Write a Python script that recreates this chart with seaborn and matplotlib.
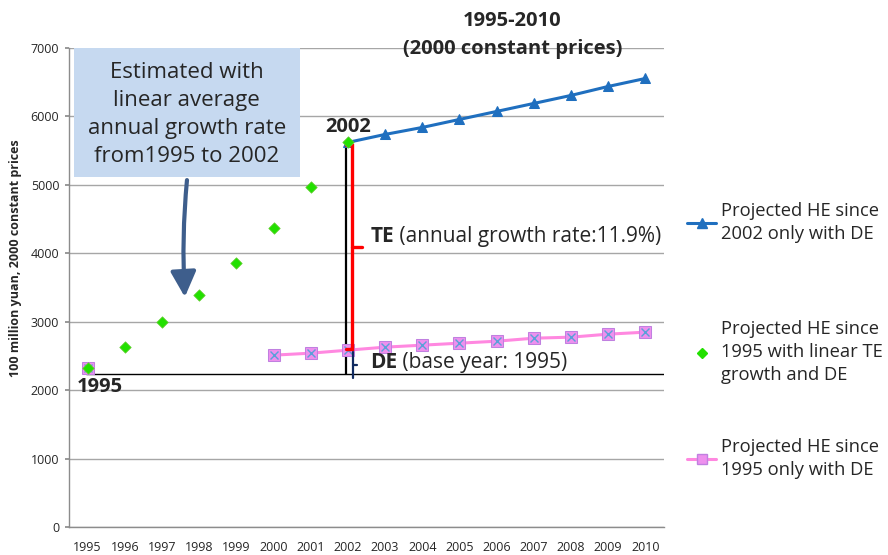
import numpy as np
import pandas as pd
import matplotlib
matplotlib.use("Agg")
import matplotlib.pyplot as plt
from matplotlib.lines import Line2D
from matplotlib.patches import FancyArrowPatch, Rectangle
import seaborn as sns

years = list(range(1995, 2011))

# Projected health expenditure (100 million yuan, 2000 constant prices)
he_since_2002_de = [np.nan] * 7 + [5620, 5737, 5839, 5956, 6073, 6190, 6307, 6438, 6555]
he_linear_te_de = [2321, 2628, 2993, 3387, 3854, 4365, 4964, 5620] + [np.nan] * 8
he_since_1995_de = [2321, np.nan, np.nan, np.nan, np.nan,
                    2511, 2540, 2584, 2628, 2657, 2686, 2715, 2759, 2774, 2818, 2847]
base_level = 2230

legend_labels = [
    "Projected HE since\n2002 only with DE",
    "Projected HE since\n1995 with linear TE\ngrowth and DE",
    "Projected HE since\n1995 only with DE",
]

sns.set_theme(style="white")
plt.rcParams["font.family"] = ["Open Sans", "DejaVu Sans"]

c_blue = "#1F6FBF"
c_green = "#22E000"
c_pink = "#FF88E0"
c_grid = "#A6A6A6"

df = pd.DataFrame({
    "x": np.arange(len(years)),
    "blue": he_since_2002_de,
    "green": he_linear_te_de,
    "pink": he_since_1995_de,
})


def segments(frame, col):
    """Split a series into runs of consecutive non-missing values."""
    valid = frame[col].notna()
    run_id = (~valid).cumsum()
    return [g for _, g in frame[valid].groupby(run_id[valid])]


fig = plt.figure(figsize=(8.88, 5.55), dpi=100)
ax = fig.add_axes([0.0777, 0.0505, 0.670, 0.863])

ax.set_ylim(0, 7000)
ax.set_xlim(-0.5, len(years) - 0.5)
ax.set_yticks(range(0, 7001, 1000))
ax.yaxis.grid(True, color=c_grid, linewidth=1.0)
ax.set_axisbelow(True)
for s in ["top", "right"]:
    ax.spines[s].set_visible(False)
for s in ["left", "bottom"]:
    ax.spines[s].set_color("#8C8C8C")
    ax.spines[s].set_linewidth(1.0)

# Baseline and 2002 marker line
ax.hlines(base_level, -0.05, len(years) - 0.5, color="black", linewidth=1.0, zorder=2)
ax.vlines(6.95, base_level, he_since_2002_de[7], color="black", linewidth=1.6, zorder=2)

# Series: lines are broken where values are missing
for seg in segments(df, "pink"):
    sns.lineplot(data=seg, x="x", y="pink", ax=ax, color=c_pink, linewidth=2.2,
                 marker="s", markersize=8, markerfacecolor="#EE90EE",
                 markeredgecolor="#C080E0", zorder=3)
ax.plot(df["x"], df["pink"], linestyle="none", marker="x", markersize=6,
        color="#5AA0D8", markeredgewidth=1.0, zorder=4)
for seg in segments(df, "blue"):
    sns.lineplot(data=seg, x="x", y="blue", ax=ax, color=c_blue, linewidth=2.2,
                 marker="^", markersize=7, markerfacecolor=c_blue,
                 markeredgecolor=c_blue, zorder=3)
sns.scatterplot(data=df, x="x", y="green", ax=ax, color=c_green, marker="D",
                s=34, edgecolor="#66CC33", linewidth=0.5, zorder=5)

ax.set_xticks(df["x"])
ax.set_xticklabels([str(y) for y in years], fontsize=9)
ax.tick_params(axis="x", length=0, pad=10)
ax.tick_params(axis="y", labelsize=9, length=3, color="#8C8C8C", left=True, pad=4)
ax.set_xlabel("")
ax.set_ylabel("")
fig.text(0.017, 0.535, "100 million yuan, 2000 constant prices", fontsize=9,
         fontweight="bold", rotation=90, ha="center", va="center")

# TE bracket (red) between DE-only and projected HE at 2002
te_top = he_since_2002_de[7] - 40
te_bot = he_since_1995_de[7] + 20
xr = 7.1
ax.plot([6.95, xr, xr, 6.95], [te_top, te_top, te_bot, te_bot], color="red",
        linewidth=2.4, zorder=4, solid_joinstyle="miter")
ax.plot([xr, xr + 0.27], [(te_top + te_bot) / 2] * 2, color="red", linewidth=2.4, zorder=4)

# DE brace (navy)
de_top = he_since_1995_de[7] - 20
de_bot = base_level - 60
ax.plot([xr + 0.05, xr + 0.05], [de_bot, de_top], color="#102A60", linewidth=1.6, zorder=4)
ax.plot([xr + 0.05, xr + 0.15], [(de_top + de_bot) / 2] * 2, color="#102A60",
        linewidth=1.6, zorder=4)

te = ax.text(7.6, 4250, "TE", fontsize=15, fontweight="bold", va="center", ha="left")
ax.annotate(" (annual growth rate:11.9%)", xy=(1, 0.5), xycoords=te, fontsize=15,
            va="center", ha="left")
de = ax.text(7.6, 2410, "DE", fontsize=15, fontweight="bold", va="center", ha="left")
ax.annotate(" (base year: 1995)", xy=(1, 0.5), xycoords=de, fontsize=15,
            va="center", ha="left")
ax.text(7.0, 5840, "2002", fontsize=14.5, fontweight="bold", va="center", ha="center")
ax.text(-0.3, 2040, "1995", fontsize=14.5, fontweight="bold", va="center", ha="left")

# Note box with arrow
ax.add_patch(Rectangle((-0.37, 5115), 6.07, 1885, facecolor="#C6D9F0",
                       edgecolor="none", zorder=6))
ax.text(2.67, 6030,
        "Estimated with\nlinear average\nannual growth rate\nfrom1995 to 2002",
        fontsize=16, ha="center", va="center", linespacing=1.45, zorder=7)
arrow = FancyArrowPatch((2.68, 5110), (2.62, 3320),
                        connectionstyle="arc3,rad=0.04",
                        arrowstyle="-|>,head_length=7,head_width=3.5",
                        color="#3E5E8C", linewidth=3, mutation_scale=2.2, zorder=5)
ax.add_patch(arrow)

# Title
fig.text(0.577, 0.962, "1995-2010", fontsize=14.5, fontweight="bold", ha="center", va="center")
fig.text(0.577, 0.912, "(2000 constant prices)", fontsize=14.5, fontweight="bold",
         ha="center", va="center")

# Legend: one block per series, placed down the right margin
handles = [
    Line2D([], [], color=c_blue, linewidth=2.2, marker="^", markersize=7),
    Line2D([], [], color=c_green, linestyle="none", marker="D", markersize=5.5),
    Line2D([], [], color=c_pink, linewidth=2.2, marker="s", markersize=7,
           markerfacecolor="#EE90EE", markeredgecolor="#C080E0"),
]
anchors = [0.636, 0.424, 0.211]
for h, lab, yb in zip(handles, legend_labels, anchors):
    leg = fig.legend([h], [lab], loc="upper left", bbox_to_anchor=(0.774, yb),
                     frameon=False, fontsize=13.2, handlelength=1.55, handletextpad=0.3,
                     borderaxespad=0, borderpad=0)
    for t in leg.get_texts():
        t.set_linespacing(1.38)

fig.savefig("out.png", dpi=100)
